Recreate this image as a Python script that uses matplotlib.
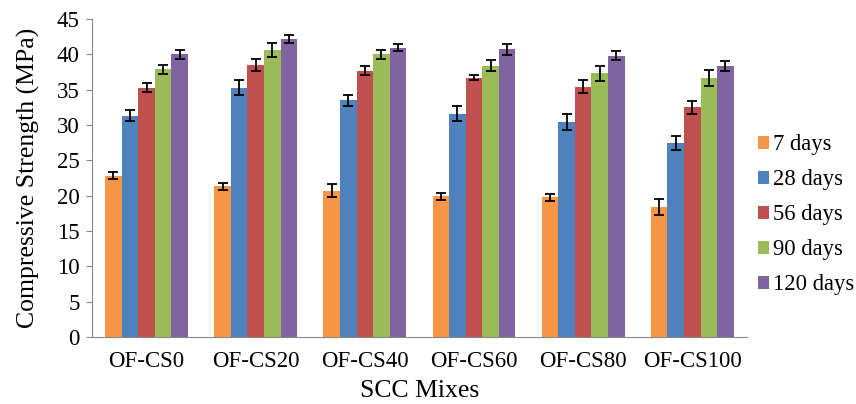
import numpy as np
import matplotlib
matplotlib.use("Agg")
import matplotlib.pyplot as plt

plt.rcParams["font.family"] = ["Liberation Serif", "DejaVu Serif"]

mixes = ["OF-CS0", "OF-CS20", "OF-CS40", "OF-CS60", "OF-CS80", "OF-CS100"]
ages = ["7 days", "28 days", "56 days", "90 days", "120 days"]

# mean strength per age (MPa), one value per mix
d7 = [22.8, 21.3, 20.7, 19.9, 19.8, 18.4]
d28 = [31.3, 35.3, 33.5, 31.6, 30.4, 27.5]
d56 = [35.3, 38.5, 37.7, 36.7, 35.4, 32.5]
d90 = [37.9, 40.6, 40.0, 38.4, 37.3, 36.6]
d120 = [40.0, 42.2, 40.9, 40.7, 39.8, 38.4]

# error bar half-lengths
e7 = [0.5, 0.45, 0.9, 0.45, 0.5, 1.1]
e28 = [0.8, 1.0, 0.8, 1.1, 1.1, 1.0]
e56 = [0.6, 0.9, 0.6, 0.4, 0.9, 0.9]
e90 = [0.65, 0.95, 0.6, 0.8, 1.1, 1.15]
e120 = [0.6, 0.6, 0.5, 0.8, 0.65, 0.7]

colors = ["#F79646", "#4F81BD", "#C0504D", "#9BBB59", "#8064A2"]

series = [d7, d28, d56, d90, d120]
errors = [e7, e28, e56, e90, e120]

fig = plt.figure(figsize=(8.56, 4.04), dpi=100)
ax = fig.add_axes([0.1075, 0.166, 0.765, 0.787])

x = np.arange(len(mixes)) + 0.5
w = 0.152
for i, (vals, errs) in enumerate(zip(series, errors)):
    ax.bar(x + (i - 2) * w, vals, w, color=colors[i], label=ages[i],
           yerr=errs, capsize=3.5,
           error_kw=dict(ecolor="black", elinewidth=1.3, capthick=1.3))

ax.set_xlim(0, len(mixes))
ax.set_ylim(0, 45)
ax.set_yticks(range(0, 46, 5))
ax.set_xticks(x)
ax.set_xticklabels(mixes, fontsize=16.5)
ax.tick_params(axis="y", labelsize=16.5, length=4, color="#888888", pad=5)
ax.tick_params(axis="x", length=0, pad=10)
for s in ["top", "right"]:
    ax.spines[s].set_visible(False)
for s in ["left", "bottom"]:
    ax.spines[s].set_color("#888888")

ax.set_xlabel("SCC Mixes", fontsize=18.5, labelpad=6)
ax.set_ylabel("Compressive Strength (MPa)", fontsize=18.5, labelpad=12)

ax.legend(loc="center left", bbox_to_anchor=(1.017, 0.384), frameon=False,
          fontsize=16.3, handlelength=0.5, handleheight=0.5,
          handletextpad=0.15, labelspacing=0.62, borderaxespad=0,
          borderpad=0)

fig.savefig("out.png", dpi=100)
